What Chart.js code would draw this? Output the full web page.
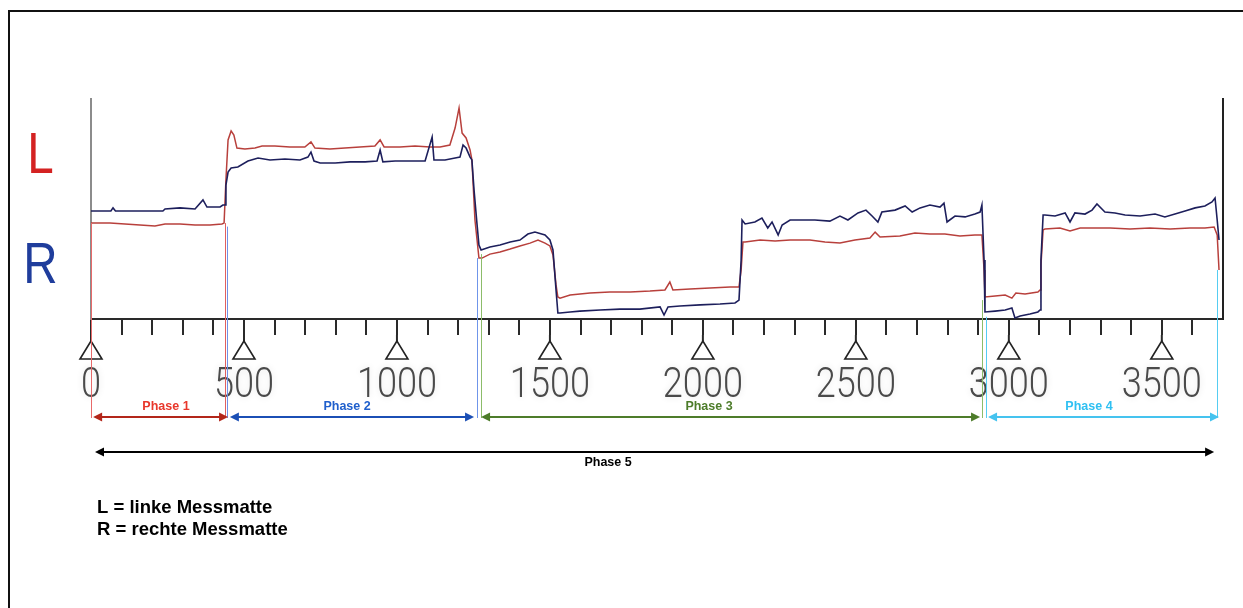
<!DOCTYPE html>
<html>
<head>
<meta charset="utf-8">
<script src="https://cdn.jsdelivr.net/npm/chart.js@4.4.1/dist/chart.umd.min.js"></script>
<style>
  html, body { margin: 0; padding: 0; background: #fff; }
  canvas { display: block; }
</style>
</head>
<body>
<canvas id="chart" width="1243" height="608"></canvas>
<script>
// Position along the walkway (x) and load level of the left mat (L)
const leftX = [0, 62, 111, 160, 209, 242, 291, 340, 389, 428, 435,
  441, 448, 458, 467, 477, 503, 536, 559, 601, 650, 699, 719, 732, 781, 830, 879, 928, 945, 958, 1010, 1059, 1108, 1141, 1173, 1190, 1203, 1213, 1226, 1239, 1245, 1255, 1268,
  1278, 1304, 1337, 1370, 1402, 1435, 1461, 1484, 1500, 1510, 1520, 1526,
  1533, 1566, 1631, 1696, 1762, 1827, 1876, 1892, 1902, 1958, 2023, 2089, 2118, 2125, 2131,
  2138, 2187, 2236, 2285, 2350, 2399, 2448, 2497, 2546, 2563, 2579, 2644, 2693, 2742, 2791, 2840, 2889, 2912, 2919, 2922,
  2955, 2988, 3010, 3023, 3053, 3095, 3102, 3105, 3112,
  3118, 3167, 3200, 3233, 3282, 3331, 3396, 3461, 3527, 3592, 3641, 3671, 3681, 3687];
const leftY = [43.6, 43.6, 43.2, 42.7, 42.3, 43.2, 43.2, 42.7, 42.7, 43.2, 43.6,
  63.2, 81.4, 85.5, 83.6, 77.7, 77.3, 77.7, 78.6, 78.6, 78.2, 78.2, 80.5, 77.7, 77.3, 77.7, 78.2, 78.6, 81.4, 78.2, 78.2, 78.6, 78.2, 78.2, 79.1, 86.8, 95.9, 84.5, 82.3, 76.8, 72.3, 45, 27.7,
  27.7, 29.5, 30.5, 31.8, 33.2, 34.5, 35.9, 34.5, 33.2, 29.1, 15.5, 10,
  9.5, 10.9, 11.8, 12.3, 12.3, 12.7, 13.2, 16.8, 13.2, 13.6, 14.1, 14.5, 14.5, 22.3, 35,
  35, 35.9, 35.5, 35.9, 35.9, 35, 34.5, 35.9, 36.8, 39.5, 37.3, 37.7, 39.1, 38.6, 38.6, 37.7, 38.2, 38.2, 22.3, 10,
  10.5, 10.9, 9.5, 11.8, 11.4, 12.3, 13.2, 24.5, 40.5,
  40.9, 41.4, 40, 41.4, 41.4, 41.4, 40.9, 41.4, 40.9, 41.4, 41.4, 41.8, 38.2, 22.3];

// Position along the walkway (x) and load level of the right mat (R)
const rightX = [0, 65, 72, 80, 160, 235, 242, 291, 340, 366, 379, 422, 431,
  438, 441, 448, 458, 480, 513, 546, 585, 634, 683, 709, 719, 729, 749, 798, 847, 896, 935, 945, 954, 994, 1043, 1092, 1115, 1121, 1157, 1190, 1206, 1216, 1226, 1239, 1245, 1252, 1262, 1268, 1275,
  1304, 1337, 1370, 1402, 1428, 1451, 1484, 1500, 1510, 1520, 1526,
  1533, 1566, 1598, 1664, 1729, 1794, 1860, 1873, 1886, 1925, 1991, 2056, 2105, 2118, 2125, 2128,
  2138, 2170, 2193, 2212, 2226, 2246, 2259, 2285, 2317, 2366, 2415, 2448, 2474, 2507, 2533, 2553, 2572, 2585, 2628, 2661, 2684, 2710, 2742, 2775, 2788, 2798, 2824, 2857, 2889, 2906, 2912, 2919, 2922,
  2955, 2988, 3010, 3020, 3037, 3069, 3095, 3102, 3105, 3112,
  3118, 3151, 3184, 3200, 3216, 3249, 3272, 3288, 3314, 3347, 3380, 3429, 3478, 3510, 3543, 3576, 3609, 3641, 3664, 3674, 3681, 3687];
const rightY = [49.1, 49.1, 50.5, 49.1, 49.1, 49.1, 50, 50.5, 50, 54.1, 50.9, 50.9, 51.8,
  51.8, 60.9, 66.8, 68.6, 69.1, 71.8, 73.2, 72.3, 72.7, 72.3, 73.6, 75.9, 71.8, 70.9, 70.9, 71.4, 71.4, 71.8, 76.8, 71.4, 71.8, 71.8, 71.8, 82.7, 72.3, 72.3, 73.2, 73.6, 79.1, 77.7, 73.6, 72.3, 58.6, 42.7, 33.6, 31.4,
  32.7, 33.6, 35, 35.9, 38.6, 39.5, 38.2, 35.9, 31.4, 13.2, 2.7,
  2.7, 3.2, 3.6, 4.1, 4.5, 4.5, 5.5, 1.8, 5.5, 5.9, 6.4, 6.8, 7.3, 8.6, 26.8, 45,
  43.2, 44.1, 45.9, 41.4, 44.1, 38.2, 42.7, 45, 45, 45, 44.5, 46.8, 45, 48.2, 49.5, 46.8, 44.1, 48.6, 49.5, 51.4, 48.6, 50.5, 51.8, 50.9, 52.7, 44.1, 46.8, 46.4, 47.7, 48.6, 51.8, 26.8, 3.2,
  3.6, 4.1, 5, 0.5, 1.4, 2.3, 3.2, 4.1, 26.8, 47.3,
  47.3, 46.8, 48.2, 44.1, 48.2, 47.7, 49.5, 52.3, 48.6, 48.2, 47.3, 46.8, 47.7, 46.4, 47.7, 49.1, 50.5, 51.4, 53.2, 55, 45, 35.9];

// Axis labelling
const majorTicks = [0, 500, 1000, 1500, 2000, 2500, 3000, 3500];
const matLetters = ['L', 'R'];
const matLetterLevel = [76, 26];

// Walking phases (x ranges) and their label positions
const phaseNames = ['Phase 1', 'Phase 2', 'Phase 3', 'Phase 4', 'Phase 5'];
const phaseFrom = [7, 454, 1275, 2932, 13];
const phaseTo = [448, 1252, 2906, 3687, 3671];
const phaseLabelAt = [245, 837, 2020, 3262, 1690];

// Phase boundary markers: x position and the level where each marker starts
const boundaryX = [0, 438, 444, 1262, 1275, 2912, 2925, 3681];
const boundaryTop = [43.6, 43.6, 42, 27.7, 29.5, 8.6, 1, 22.3];

const legendLines = ['L = linke Messmatte', 'R = rechte Messmatte'];

// Styling
const phaseArrowColors = ['#b3261a', '#1b4fb5', '#4d7c2a', '#45c3ef', '#000000'];
const phaseTextColors = ['#e8372b', '#1f5fcc', '#4d7c2a', '#2fc0f2', '#000000'];
const boundaryColors = ['#e86a6a', '#e06060', '#7090e8', '#6f95ea', '#8cbc6a', '#8cbc6a', '#55cdf2', '#55cdf2'];
const matColors = ['#d42222', '#1f3d9c'];
const sansFont = '"Liberation Sans", Arial, sans-serif';
const lightFont = 'Roboto, "Liberation Sans", Arial, sans-serif';
const condense = 0.86; // the scanned axis lettering is horizontally squeezed

const toPoints = (xs, ys) => xs.map((x, i) => ({ x: x, y: ys[i] }));

function drawArrow(ctx, x1, x2, y, color) {
  const head = 9, half = 4.5;
  ctx.strokeStyle = color;
  ctx.fillStyle = color;
  ctx.lineWidth = 2;
  ctx.beginPath();
  ctx.moveTo(x1 + head - 1, y);
  ctx.lineTo(x2 - head + 1, y);
  ctx.stroke();
  ctx.beginPath();
  ctx.moveTo(x1, y);
  ctx.lineTo(x1 + head, y - half);
  ctx.lineTo(x1 + head, y + half);
  ctx.closePath();
  ctx.fill();
  ctx.beginPath();
  ctx.moveTo(x2, y);
  ctx.lineTo(x2 - head, y - half);
  ctx.lineTo(x2 - head, y + half);
  ctx.closePath();
  ctx.fill();
}

function condensedText(ctx, text, x, y, factor) {
  ctx.save();
  ctx.translate(x, y);
  ctx.scale(factor, 1);
  ctx.fillText(text, 0, 0);
  ctx.restore();
}

// Page frame
const framePlugin = {
  id: 'pageFrame',
  beforeDraw(chart) {
    const ctx = chart.ctx;
    ctx.save();
    ctx.strokeStyle = '#111';
    ctx.lineWidth = 2;
    ctx.beginPath();
    ctx.moveTo(9, chart.height);
    ctx.lineTo(9, 11);
    ctx.lineTo(chart.width, 11);
    ctx.stroke();
    ctx.restore();
  }
};

// Triangle marks and numbers under the labelled ticks, mat letters beside the y axis
const axisDecorPlugin = {
  id: 'axisDecor',
  afterDraw(chart) {
    const ctx = chart.ctx;
    const xs = chart.scales.x;
    const ys = chart.scales.y;
    const base = chart.chartArea.bottom;
    ctx.save();
    majorTicks.forEach(v => {
      const px = xs.getPixelForValue(v);
      ctx.strokeStyle = '#2a2a2a';
      ctx.lineWidth = 2;
      ctx.beginPath();
      ctx.moveTo(px, base + 16);
      ctx.lineTo(px, base + 22);
      ctx.stroke();
      ctx.strokeStyle = '#222';
      ctx.fillStyle = '#fff';
      ctx.lineWidth = 1.6;
      ctx.beginPath();
      ctx.moveTo(px, base + 22);
      ctx.lineTo(px - 11, base + 40);
      ctx.lineTo(px + 11, base + 40);
      ctx.closePath();
      ctx.fill();
      ctx.stroke();
    });
    ctx.font = '300 42px ' + lightFont;
    ctx.fillStyle = '#4a4a4a';
    ctx.textAlign = 'center';
    ctx.textBaseline = 'alphabetic';
    ctx.shadowColor = 'rgba(0,0,0,0.12)';
    ctx.shadowBlur = 7;
    majorTicks.forEach(v => condensedText(ctx, String(v), xs.getPixelForValue(v), base + 78, condense));
    ctx.shadowBlur = 0;
    ctx.font = '58px ' + sansFont;
    matLetters.forEach((letter, i) => {
      ctx.fillStyle = matColors[i];
      condensedText(ctx, letter, 40.5, ys.getPixelForValue(matLetterLevel[i]) + 20.8, 0.82);
    });
    ctx.restore();
  }
};

// Phase boundaries, phase arrows and the legend text
const phasePlugin = {
  id: 'phases',
  afterDraw(chart) {
    const ctx = chart.ctx;
    const xs = chart.scales.x;
    const ys = chart.scales.y;
    const base = chart.chartArea.bottom;
    const arrowY = base + 98;
    const totalY = base + 133;
    ctx.save();
    ctx.lineWidth = 1;
    boundaryX.forEach((v, i) => {
      const px = Math.round(xs.getPixelForValue(v)) + 0.5;
      ctx.strokeStyle = boundaryColors[i];
      ctx.beginPath();
      ctx.moveTo(px, ys.getPixelForValue(boundaryTop[i]));
      ctx.lineTo(px, arrowY + 1);
      ctx.stroke();
    });
    phaseNames.forEach((name, i) => {
      const y = i === 4 ? totalY : arrowY;
      drawArrow(ctx, xs.getPixelForValue(phaseFrom[i]), xs.getPixelForValue(phaseTo[i]), y, phaseArrowColors[i]);
      ctx.font = 'bold 12.5px ' + sansFont;
      ctx.fillStyle = phaseTextColors[i];
      ctx.textAlign = 'center';
      ctx.textBaseline = 'middle';
      ctx.fillText(name, xs.getPixelForValue(phaseLabelAt[i]), i === 4 ? totalY + 11 : arrowY - 10);
    });
    ctx.font = 'bold 18.5px ' + sansFont;
    ctx.fillStyle = '#000';
    ctx.textAlign = 'left';
    ctx.textBaseline = 'alphabetic';
    legendLines.forEach((line, i) => ctx.fillText(line, 97, 513 + i * 22));
    ctx.restore();
  }
};

new Chart(document.getElementById('chart'), {
  type: 'line',
  data: {
    datasets: [
      {
        label: 'R',
        data: toPoints(rightX, rightY),
        borderColor: '#1d1f5c',
        borderWidth: 1.6,
        pointRadius: 0,
        tension: 0
      },
      {
        label: 'L',
        data: toPoints(leftX, leftY),
        borderColor: '#b8403c',
        borderWidth: 1.5,
        pointRadius: 0,
        tension: 0
      }
    ]
  },
  options: {
    responsive: false,
    animation: false,
    devicePixelRatio: 1,
    layout: { padding: { top: 99, left: 0, right: 0, bottom: 0 } },
    plugins: { legend: { display: false }, tooltip: { enabled: false } },
    scales: {
      x: {
        type: 'linear',
        min: 0,
        max: 3700,
        afterBuildTicks: s => { s.ticks = s.ticks.filter(t => t.value < 3700); },
        afterFit: s => { s.height = 289; },
        ticks: { stepSize: 100, autoSkip: false, maxRotation: 0, minRotation: 0, display: false },
        grid: { drawOnChartArea: false, drawTicks: true, tickLength: 16, color: '#2a2a2a', lineWidth: 2 },
        border: { display: true, color: '#2a2a2a', width: 2 }
      },
      y: {
        min: 0,
        max: 100,
        afterFit: s => { s.width = 91; },
        ticks: { display: false },
        grid: { display: false, drawTicks: false },
        border: { display: true, color: '#8c8c8c', width: 2 }
      },
      y2: {
        position: 'right',
        min: 0,
        max: 100,
        afterFit: s => { s.width = 20; },
        ticks: { display: false },
        grid: { display: false, drawTicks: false },
        border: { display: true, color: '#222', width: 2 }
      }
    }
  },
  plugins: [framePlugin, axisDecorPlugin, phasePlugin]
});
</script>
</body>
</html>
